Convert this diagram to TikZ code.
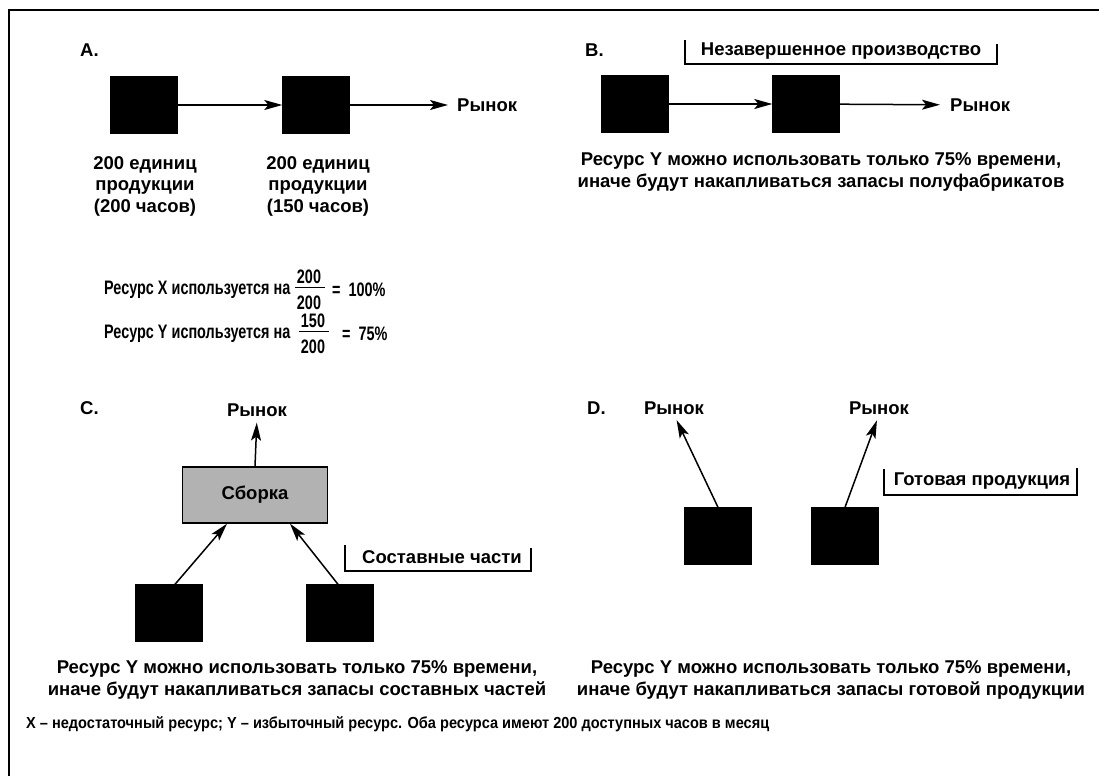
\documentclass[tikz,border=0pt]{standalone}
\usepackage{fontspec}
\setmainfont{Liberation Sans}
\newfontfamily\condensed[FakeStretch=0.74]{Liberation Sans}
\newfontfamily\legendfont[FakeStretch=0.91]{Liberation Sans}
\usetikzlibrary{arrows.meta,calc}
\begin{document}
\begin{tikzpicture}[x=1pt,y=-1pt,
  txt/.style={font=\fontsize{18.5}{21.5}\selectfont\bfseries, inner sep=0pt, align=center},
  eq/.style={font=\fontsize{19.5}{21}\selectfont\condensed\bfseries, inner sep=0pt},
  note/.style={font=\fontsize{16}{18}\selectfont\legendfont\bfseries, inner sep=0pt},
  blk/.style={draw=black, fill=black, minimum width=67pt, minimum height=57pt, inner sep=0pt},
  flow/.style={line width=1.5pt, -{Stealth[length=18pt,width=10pt,inset=4pt]}},
  tag/.style={line width=1.1pt},
  frac/.style={line width=1.2pt}
]
\useasboundingbox (0,0) rectangle (1099,776);
% outer frame (top and left edges)
\draw[line width=1.5pt] (9,776) -- (9,10) -- (1099,10);

% ---- A: two resources in a line
\node[txt, anchor=west] (lA) at (80,50) {A.};
\node[blk] (a1) at (144,105) {};
\node[blk] (a2) at (316,105) {};
\node[txt, anchor=west] (ma) at (457,105) {Рынок};
\draw[flow] (a1) -- (a2);
\draw[flow, shorten >=9pt] (a2) -- (ma);
\node[txt] (ca1) at (145,186) {200 единиц\\продукции\\(200 часов)};
\node[txt] (ca2) at (318,186) {200 единиц\\продукции\\(150 часов)};

% ---- B: work in process
\node[txt, anchor=west] (lB) at (585,50) {B.};
\node[txt] (wip) at (841,51) {Незавершенное производство};
\draw[tag] (685,40) -- (685,64) -- (997,64) -- (997,44);
\node[blk] (b1) at (635,104) {};
\node[blk] (b2) at (806,104) {};
\node[txt, anchor=west] (mb) at (950,105) {Рынок};
\draw[flow] (b1) -- (b2);
\draw[flow, shorten >=10pt] (b2) -- (mb);
\node[txt] (tB) at (821,172) {Ресурс Y можно использовать только 75\% времени,\\иначе будут накапливаться запасы полуфабрикатов};

% ---- utilisation of the resources
\node[eq, anchor=west] (f1) at (104,290) {Ресурс X используется на};
\node[eq] (n1) at (309,277) {200};
\node[eq] (d1) at (309,303) {200};
\draw[frac] ([xshift=-2pt]n1.south west) ++(0,3.5) -- ++(30,0);
\node[eq, anchor=west] (r1) at (332,290) {=\hspace{8pt}100\%};
\node[eq, anchor=west] (f2) at (104,334) {Ресурс Y используется на};
\node[eq] (n2) at (313,321) {150};
\node[eq] (d2) at (313,347) {200};
\draw[frac] ([xshift=-2pt]n2.south west) ++(0,3.5) -- ++(30,0);
\node[eq, anchor=west] (r2) at (342,334) {=\hspace{8pt}75\%};

% ---- C: assembly
\node[txt, anchor=west] (lC) at (80,408) {C.};
\node[txt] (mC) at (257,410) {Рынок};
\node[draw, fill=gray!60, line width=1.3pt, minimum width=145pt, minimum height=56pt,
      font=\fontsize{18.5}{21.5}\selectfont\bfseries] (asm) at (255,495) {Сборка};
\node[blk] (c1) at (169,613) {};
\node[blk] (c2) at (340,613) {};
\draw[flow, shorten >=6pt] (asm.north) -- (mC.south);
\draw[flow] ([xshift=6pt]c1.north) -- ([xshift=-28pt]asm.south);
\draw[flow] ([xshift=-2pt]c2.north) -- ([xshift=35pt]asm.south);
\node[txt] (parts) at (442,557) {Составные части};
\draw[tag] (345,545) -- (345,571) -- (531,571) -- (531,548);
\node[txt] (tC) at (297,680) {Ресурс Y можно использовать только 75\% времени,\\иначе будут накапливаться запасы составных частей};

% ---- D: two independent flows
\node[txt, anchor=west] (lD) at (587,408) {D.};
\node[txt] (mD1) at (674,408) {Рынок};
\node[txt] (mD2) at (879,408) {Рынок};
\node[blk] (e1) at (718,536) {};
\node[blk] (e2) at (845,536) {};
\draw[flow, shorten >=6pt] (e1.north) -- (mD1.south);
\draw[flow, shorten >=6pt] (e2.north) -- (mD2.south);
\node[txt] (fin) at (982,481) {Готовая продукция};
\draw[tag] (884,469) -- (884,495) -- (1077,495) -- (1077,468);
\node[txt] (tD) at (831,680) {Ресурс Y можно использовать только 75\% времени,\\иначе будут накапливаться запасы готовой продукции};

% ---- legend
\node[note, anchor=west] (ft) at (26,724) {X – недостаточный ресурс; Y – избыточный ресурс. Оба ресурса имеют 200 доступных часов в месяц};
\end{tikzpicture}
\end{document}
